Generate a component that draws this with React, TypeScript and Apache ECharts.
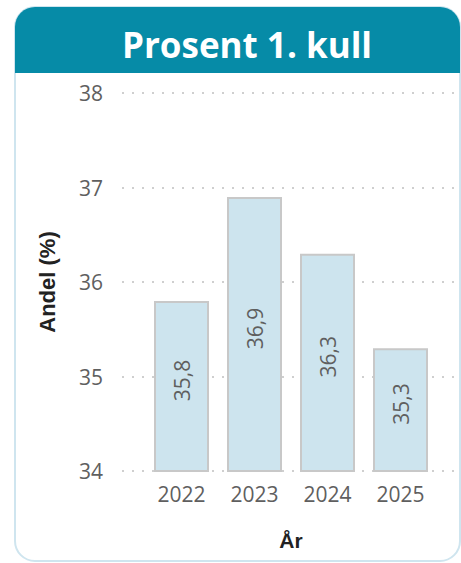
import React, { useEffect, useRef } from "react";
import * as echarts from "echarts";

const years = ["2022", "2023", "2024", "2025"];
const values = [35.8, 36.9, 36.3, 35.3];
const yMin = 34;
const yMax = 38;
const yStep = 1;
const titleText = "Prosent 1. kull";
const yName = "Andel (%)";
const xName = "År";

const FONT = "'Open Sans', 'Noto Sans', sans-serif";
const BOLD_FONT = "'Liberation Sans', Arial, sans-serif";

export default function App() {
  const ref = useRef<HTMLDivElement>(null);
  useEffect(() => {
    if (!ref.current) return;
    const chart = echarts.init(ref.current, null, { renderer: "svg" });
    chart.setOption({
      animation: false,
      textStyle: { fontFamily: FONT },
      graphic: [
        {
          type: "rect",
          z: -10,
          shape: { x: 15, y: 7, width: 445, height: 554, r: 20 },
          style: { fill: "#ffffff", stroke: "#cfe5ef", lineWidth: 2 },
        },
        {
          type: "rect",
          z: -9,
          shape: { x: 15, y: 7, width: 445, height: 66, r: [20, 20, 0, 0] },
          style: { fill: "#068ba7" },
        },
        {
          type: "text",
          z: -8,
          x: 247,
          y: 44,
          style: {
            text: titleText,
            fill: "#ffffff",
            font: `bold 35px ${FONT}`,
            textAlign: "center",
            textVerticalAlign: "middle",
          },
        },
      ],
      grid: [
        { left: 122, right: 3, top: 93, height: 378 },
        { left: 145, width: 292, top: 93, height: 378 },
      ],
      xAxis: [
        { type: "value", gridIndex: 0, show: false, min: 0, max: 1 },
        {
          type: "category",
          gridIndex: 1,
          data: years,
          axisLine: { show: false },
          axisTick: { show: false },
          axisLabel: { color: "#5f5f5f", fontSize: 21, margin: 12, fontFamily: FONT },
          name: xName,
          nameLocation: "middle",
          nameGap: 59,
          nameTextStyle: { color: "#222", fontSize: 21, fontWeight: "bold", fontFamily: BOLD_FONT },
        },
      ],
      yAxis: [
        {
          type: "value",
          gridIndex: 0,
          min: yMin,
          max: yMax,
          interval: yStep,
          axisLine: { show: false },
          axisTick: { show: false },
          axisLabel: { color: "#5f5f5f", fontSize: 21, margin: 19, fontFamily: FONT },
          splitLine: { lineStyle: { color: "#cfcfcf", width: 2, type: [2, 8] } },
          name: yName,
          nameLocation: "middle",
          nameGap: 64,
          nameTextStyle: { color: "#222", fontSize: 22, fontWeight: "bold", fontFamily: BOLD_FONT },
        },
        {
          type: "value",
          gridIndex: 1,
          min: yMin,
          max: yMax,
          interval: yStep,
          show: false,
          splitLine: { show: false },
        },
      ],
      series: [
        {
          type: "bar",
          xAxisIndex: 1,
          yAxisIndex: 1,
          data: values,
          barWidth: 55,
          itemStyle: { color: "#cde4ee", borderColor: "#c8c8c8", borderWidth: 2 },
          label: {
            show: true,
            position: "inside",
            rotate: 90,
            offset: [6, 0],
            color: "#5f5f5f",
            fontSize: 21,
            fontFamily: FONT,
            formatter: (p: any) => String(p.value).replace(".", ","),
          },
        },
      ],
    });
    return () => chart.dispose();
  }, []);
  return (
    <div
      ref={ref}
      style={{ position: "absolute", left: 0, top: 0, width: 461, height: 563 }}
    />
  );
}
